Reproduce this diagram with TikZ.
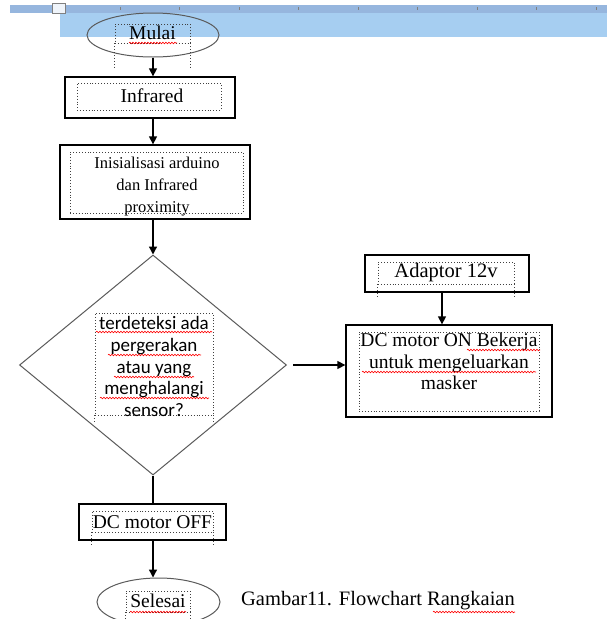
\documentclass[tikz,border=0pt]{standalone}
\usepackage{fontspec}
\setmainfont{Liberation Serif}
\newfontfamily\calfont{Carlito}
\usetikzlibrary{arrows.meta,shapes.geometric,decorations.pathmorphing}
\definecolor{bandblue}{RGB}{166,206,241}
\definecolor{stripblue}{RGB}{150,182,222}
\definecolor{shapegray}{RGB}{90,90,90}
\tikzset{
  box/.style={draw=black, line width=1.3pt, inner sep=0pt},
  dotbox/.style={draw=black!75, dotted, line width=0.9pt, inner sep=0pt},
  oval/.style={ellipse, draw=shapegray, line width=1pt, inner sep=0pt},
  decision/.style={diamond, draw=shapegray, line width=1pt, inner sep=0pt, aspect=1.2},
  lbl/.style={inner sep=0pt, font=\fontsize{19.5}{21.5}\selectfont, align=center},
  small/.style={inner sep=0pt, font=\fontsize{16.5}{22}\selectfont, align=center},
  sans/.style={inner sep=0pt, font=\calfont\fontsize{19}{21.6}\selectfont, align=center},
  arr/.style={-{Triangle[width=8pt,length=8pt]}, line width=1.3pt},
  plain/.style={line width=1.3pt},
  guide/.style={dotted, line width=0.9pt, draw=black!75},
  wavy/.style={red, line width=0.6pt, decorate, decoration={snake, amplitude=0.8pt, segment length=3pt}},
  tick/.style={gray, line width=0.8pt}
}
\begin{document}
\begin{tikzpicture}[x=1pt, y=-1pt]
\useasboundingbox (0,0) rectangle (607,619);
\clip (0,0) rectangle (607,619);
% word-processor band
\fill[stripblue] (10,5) rectangle (607,13);
\fill[bandblue] (60,13) rectangle (607,37);
\draw[fill=white!85!stripblue, draw=gray, line width=0.6pt] (52,3) rectangle (65,13);
\foreach \t in {120,179.5,239,298.5,358,417.5,477,536.5,596}
  \draw[tick] (\t,7) -- (\t,10);

% start
\node[oval, minimum width=132, minimum height=44] (mulai) at (153,35) {};
\node[dotbox, minimum width=75, minimum height=19] (mulaiT) at (152.5,33.5) {};
\draw[guide] (mulaiT.south west) -- ++(0,24);
\draw[guide] (mulaiT.south east) -- ++(0,24);
\node[lbl] (mulaiL) at (152.5,33) {Mulai};
\draw[wavy] (129,43) -- (177,43);

% Infrared
\node[box, minimum width=170, minimum height=41] (infra) at (150,97.5) {};
\node[dotbox, minimum width=144, minimum height=27] (infraT) at (149,96.5) {};
\node[lbl] (infraL) at (152,96) {Infrared};

% Inisialisasi
\node[box, minimum width=190, minimum height=74] (init) at (155,182) {};
\node[dotbox, minimum width=173, minimum height=61] (initT) at (156.5,182.5) {};
\node[small] (initL) at (157,187) {Inisialisasi arduino\\dan Infrared\\proximity};

% decision
\node[decision, minimum width=267, minimum height=220] (dec) at (153,365) {};
\node[dotbox, minimum width=118, minimum height=102] (decT) at (154,364) {};
\draw[guide] (decT.south west) -- ++(0,7);
\draw[guide] (decT.south east) -- ++(0,7);
\node[sans] (decL) at (154,366.5) {terdeteksi ada\\pergerakan\\atau yang\\menghalangi\\sensor?};
\draw[wavy] (96,332) -- (212,332);
\draw[wavy] (108,355) -- (201,355);
\draw[wavy] (114,377) -- (194,377);
\draw[wavy] (100,398) -- (209,398);

% Adaptor
\node[box, minimum width=164, minimum height=37] (adapt) at (447,273.5) {};
\node[dotbox, minimum width=136, minimum height=22] (adaptT) at (446,273) {};
\draw[guide] (adaptT.south west) -- ++(0,14);
\draw[guide] (adaptT.south east) -- ++(0,14);
\node[lbl, font=\fontsize{20.5}{22}\selectfont] (adaptL) at (446,273) {Adaptor 12v};

% DC motor ON
\node[box, minimum width=206, minimum height=92] (on) at (449,371) {};
\node[dotbox, minimum width=180, minimum height=79] (onT) at (449,371.5) {};
\node[lbl] (onL) at (449,361.5) {DC motor ON Bekerja\\untuk mengeluarkan\\masker};
\draw[wavy] (467,350) -- (540,350);
\draw[wavy] (362,372) -- (536,372);

% DC motor OFF
\node[box, minimum width=147, minimum height=36] (off) at (152.5,522) {};
\node[dotbox, minimum width=121, minimum height=21] (offT) at (152.5,521.5) {};
\draw[guide] (offT.south west) -- ++(0,12);
\draw[guide] (offT.south east) -- ++(0,12);
\node[lbl] (offL) at (152.5,522) {DC motor OFF};

% end
\node[oval, minimum width=123, minimum height=48] (selesai) at (158.5,602) {};
\node[dotbox, minimum width=64, minimum height=21] (selT) at (158,601.5) {};
\draw[guide] (selT.south west) -- ++(0,10);
\draw[guide] (selT.south east) -- ++(0,10);
\node[lbl] (selL) at (158,601) {Selesai};
\draw[wavy] (130,612) -- (186,612);

% caption
\node[inner sep=0pt, font=\fontsize{20.5}{22}\selectfont] (cap) at (378,601) {Gambar11. Flowchart Rangkaian};
\draw[wavy] (433,612) -- (515,612);

% connectors
\draw[arr] (mulai.south -| 153,0) -- (153,0 |- infra.north);
\draw[arr] (153,0 |- infra.south) -- (153,0 |- init.north);
\draw[arr] (153,0 |- init.south) -- (dec.north);
\draw[plain] (dec.south) -- (153,0 |- off.north);
\draw[arr] (153,0 |- off.south) -- (153,0 |- selesai.north);
\draw[arr] ([xshift=6pt]dec.east) -- (on.west |- dec.east);
\draw[arr] (442,0 |- adapt.south) -- (442,0 |- on.north);
\end{tikzpicture}
\end{document}
